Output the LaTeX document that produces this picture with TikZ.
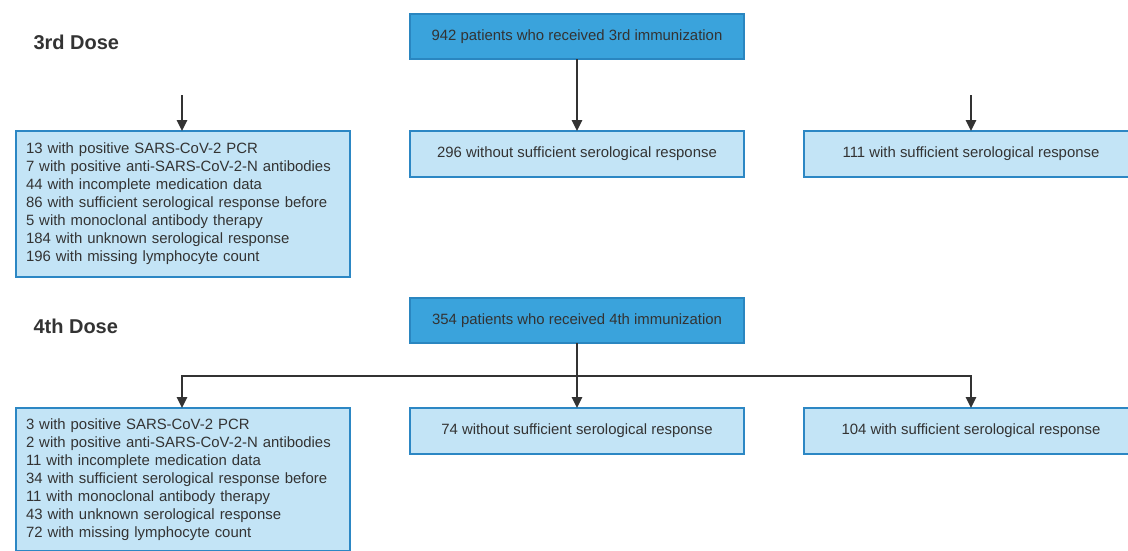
\documentclass[tikz,border=0pt]{standalone}
\usepackage{fontspec}
\setmainfont{Liberation Sans}
\usetikzlibrary{arrows.meta}
\definecolor{topfill}{HTML}{3AA3DC}
\definecolor{topdraw}{HTML}{2A86C0}
\definecolor{boxfill}{HTML}{C3E4F6}
\definecolor{boxdraw}{HTML}{2C87C4}
\definecolor{ink}{HTML}{333333}
\tikzset{
  x=1pt, y=-1pt,
  basebox/.style={rectangle, anchor=north west, inner sep=0pt, outer sep=0pt,
    line width=1.2pt, text=ink, font=\fontsize{14.9}{18}\selectfont},
  topbox/.style={basebox, fill=topfill, draw=topdraw, minimum width=334pt, minimum height=45pt},
  resbox/.style={basebox, fill=boxfill, draw=boxdraw, minimum width=334pt, minimum height=46pt,
    append after command={\pgfextra{\let\lastbox\tikzlastnode}
      [draw=boxdraw, line width=2.4pt] (\lastbox.south west) -- (\lastbox.south east)}},
  exbox/.style={basebox, fill=boxfill, draw=boxdraw, minimum width=334pt, text width=314pt, align=left},
  doselabel/.style={anchor=west, text=ink, font=\fontsize{20}{24}\selectfont\bfseries},
  arr/.style={draw=ink, line width=2.5pt, -{Triangle[width=10pt,length=11pt]}},
}
\begin{document}
\begin{tikzpicture}
\useasboundingbox (0,0) rectangle (1128,550);
\fill[white] (0,0) rectangle (1128,550);
% 3rd dose
\node[doselabel] (d3) at (30,42) {3rd Dose};
\node[topbox] (top3) at (410,14) {942 patients who received 3rd immunization};
\node[exbox, minimum height=146pt] (ex3) at (16,131) {13 with positive SARS-CoV-2 PCR\\
7 with positive anti-SARS-CoV-2-N antibodies\\
44 with incomplete medication data\\
86 with sufficient serological response before\\
5 with monoclonal antibody therapy\\
184 with unknown serological response\\
196 with missing lymphocyte count};
\node[resbox] (mid3) at (410,131) {296 without sufficient serological response};
\node[resbox] (suf3) at (804,131) {111 with sufficient serological response};
\coordinate (l3) at (182,95);
\coordinate (r3) at (971,95);
\draw[arr] (l3) -- (l3 |- ex3.north);
\draw[arr] (top3.south) -- (mid3.north);
\draw[arr] (r3) -- (suf3.north);
% 4th dose
\node[doselabel] (d4) at (30,326) {4th Dose};
\node[topbox] (top4) at (410,298) {354 patients who received 4th immunization};
\node[exbox, minimum height=143pt] (ex4) at (16,408) {3 with positive SARS-CoV-2 PCR\\
2 with positive anti-SARS-CoV-2-N antibodies\\
11 with incomplete medication data\\
34 with sufficient serological response before\\
11 with monoclonal antibody therapy\\
43 with unknown serological response\\
72 with missing lymphocyte count};
\node[resbox] (mid4) at (410,408) {74 without sufficient serological response};
\node[resbox] (suf4) at (804,408) {104 with sufficient serological response};
\coordinate (j4) at (577,376);
\coordinate (lx4) at (182,408);
\draw[arr] (top4.south) -- (mid4.north);
\draw[arr] (j4) -| (lx4);
\draw[arr] (j4) -| (suf4.north);
\end{tikzpicture}
\end{document}
